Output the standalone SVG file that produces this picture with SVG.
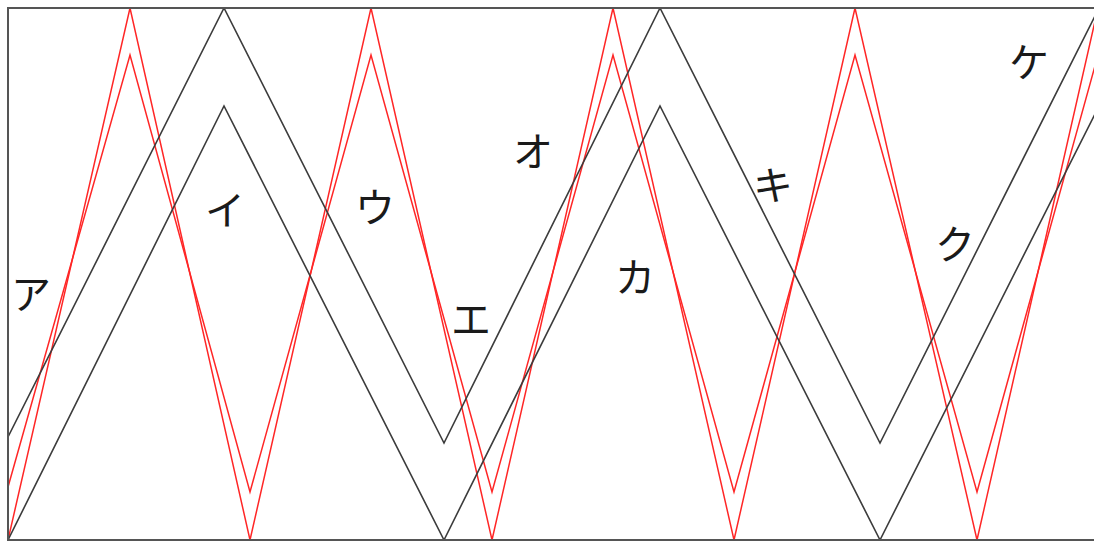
<svg xmlns="http://www.w3.org/2000/svg" width="1094" height="542" viewBox="0 0 1094 542">
<style>
.red{fill:none;stroke:#ff2626;stroke-width:1.5;stroke-linejoin:miter}
.blk{fill:none;stroke:#3c3c3c;stroke-width:1.6;stroke-linejoin:miter}
.frame{fill:none;stroke:#555;stroke-width:2}
.lbl{font-family:"Noto Sans CJK JP","Noto Sans CJK SC",sans-serif;font-size:40px;fill:#1a1a1a;text-anchor:middle}
</style>
<defs>
<clipPath id="c"><rect x="8" y="8" width="1086" height="532"/></clipPath>
</defs>
<rect width="1094" height="542" fill="#fff"/>
<g id="connectors" clip-path="url(#c)">
<polyline class="red" points="8,540 130,8 250,540 371,8 492,540 613,8 734,540 855,8 977,540 1098,8"/>
<polyline class="red" points="8,487 130,55 250,492 371,55 492,492 613,55 734,492 855,55 977,492 1098,55"/>
<polyline class="blk" points="8,437 224,8 444,443 660,8 880,443 1099,8"/>
<polyline class="blk" points="8,540 224,106 444,540 660,106 880,540 1099,106"/>
</g>
<g id="frame">
<polyline class="frame" points="1094,8 8,8 8,540 1094,540"/>
</g>
<g id="label-a"><text class="lbl" x="31" y="309">ア</text></g>
<g id="label-i"><text class="lbl" x="225" y="225">イ</text></g>
<g id="label-u"><text class="lbl" x="375" y="222">ウ</text></g>
<g id="label-e"><text class="lbl" x="471" y="334">エ</text></g>
<g id="label-o"><text class="lbl" x="533" y="166">オ</text></g>
<g id="label-ka"><text class="lbl" x="635" y="292">カ</text></g>
<g id="label-ki"><text class="lbl" x="773" y="200">キ</text></g>
<g id="label-ku"><text class="lbl" x="955" y="259">ク</text></g>
<g id="label-ke"><text class="lbl" x="1029" y="77">ケ</text></g>
</svg>
